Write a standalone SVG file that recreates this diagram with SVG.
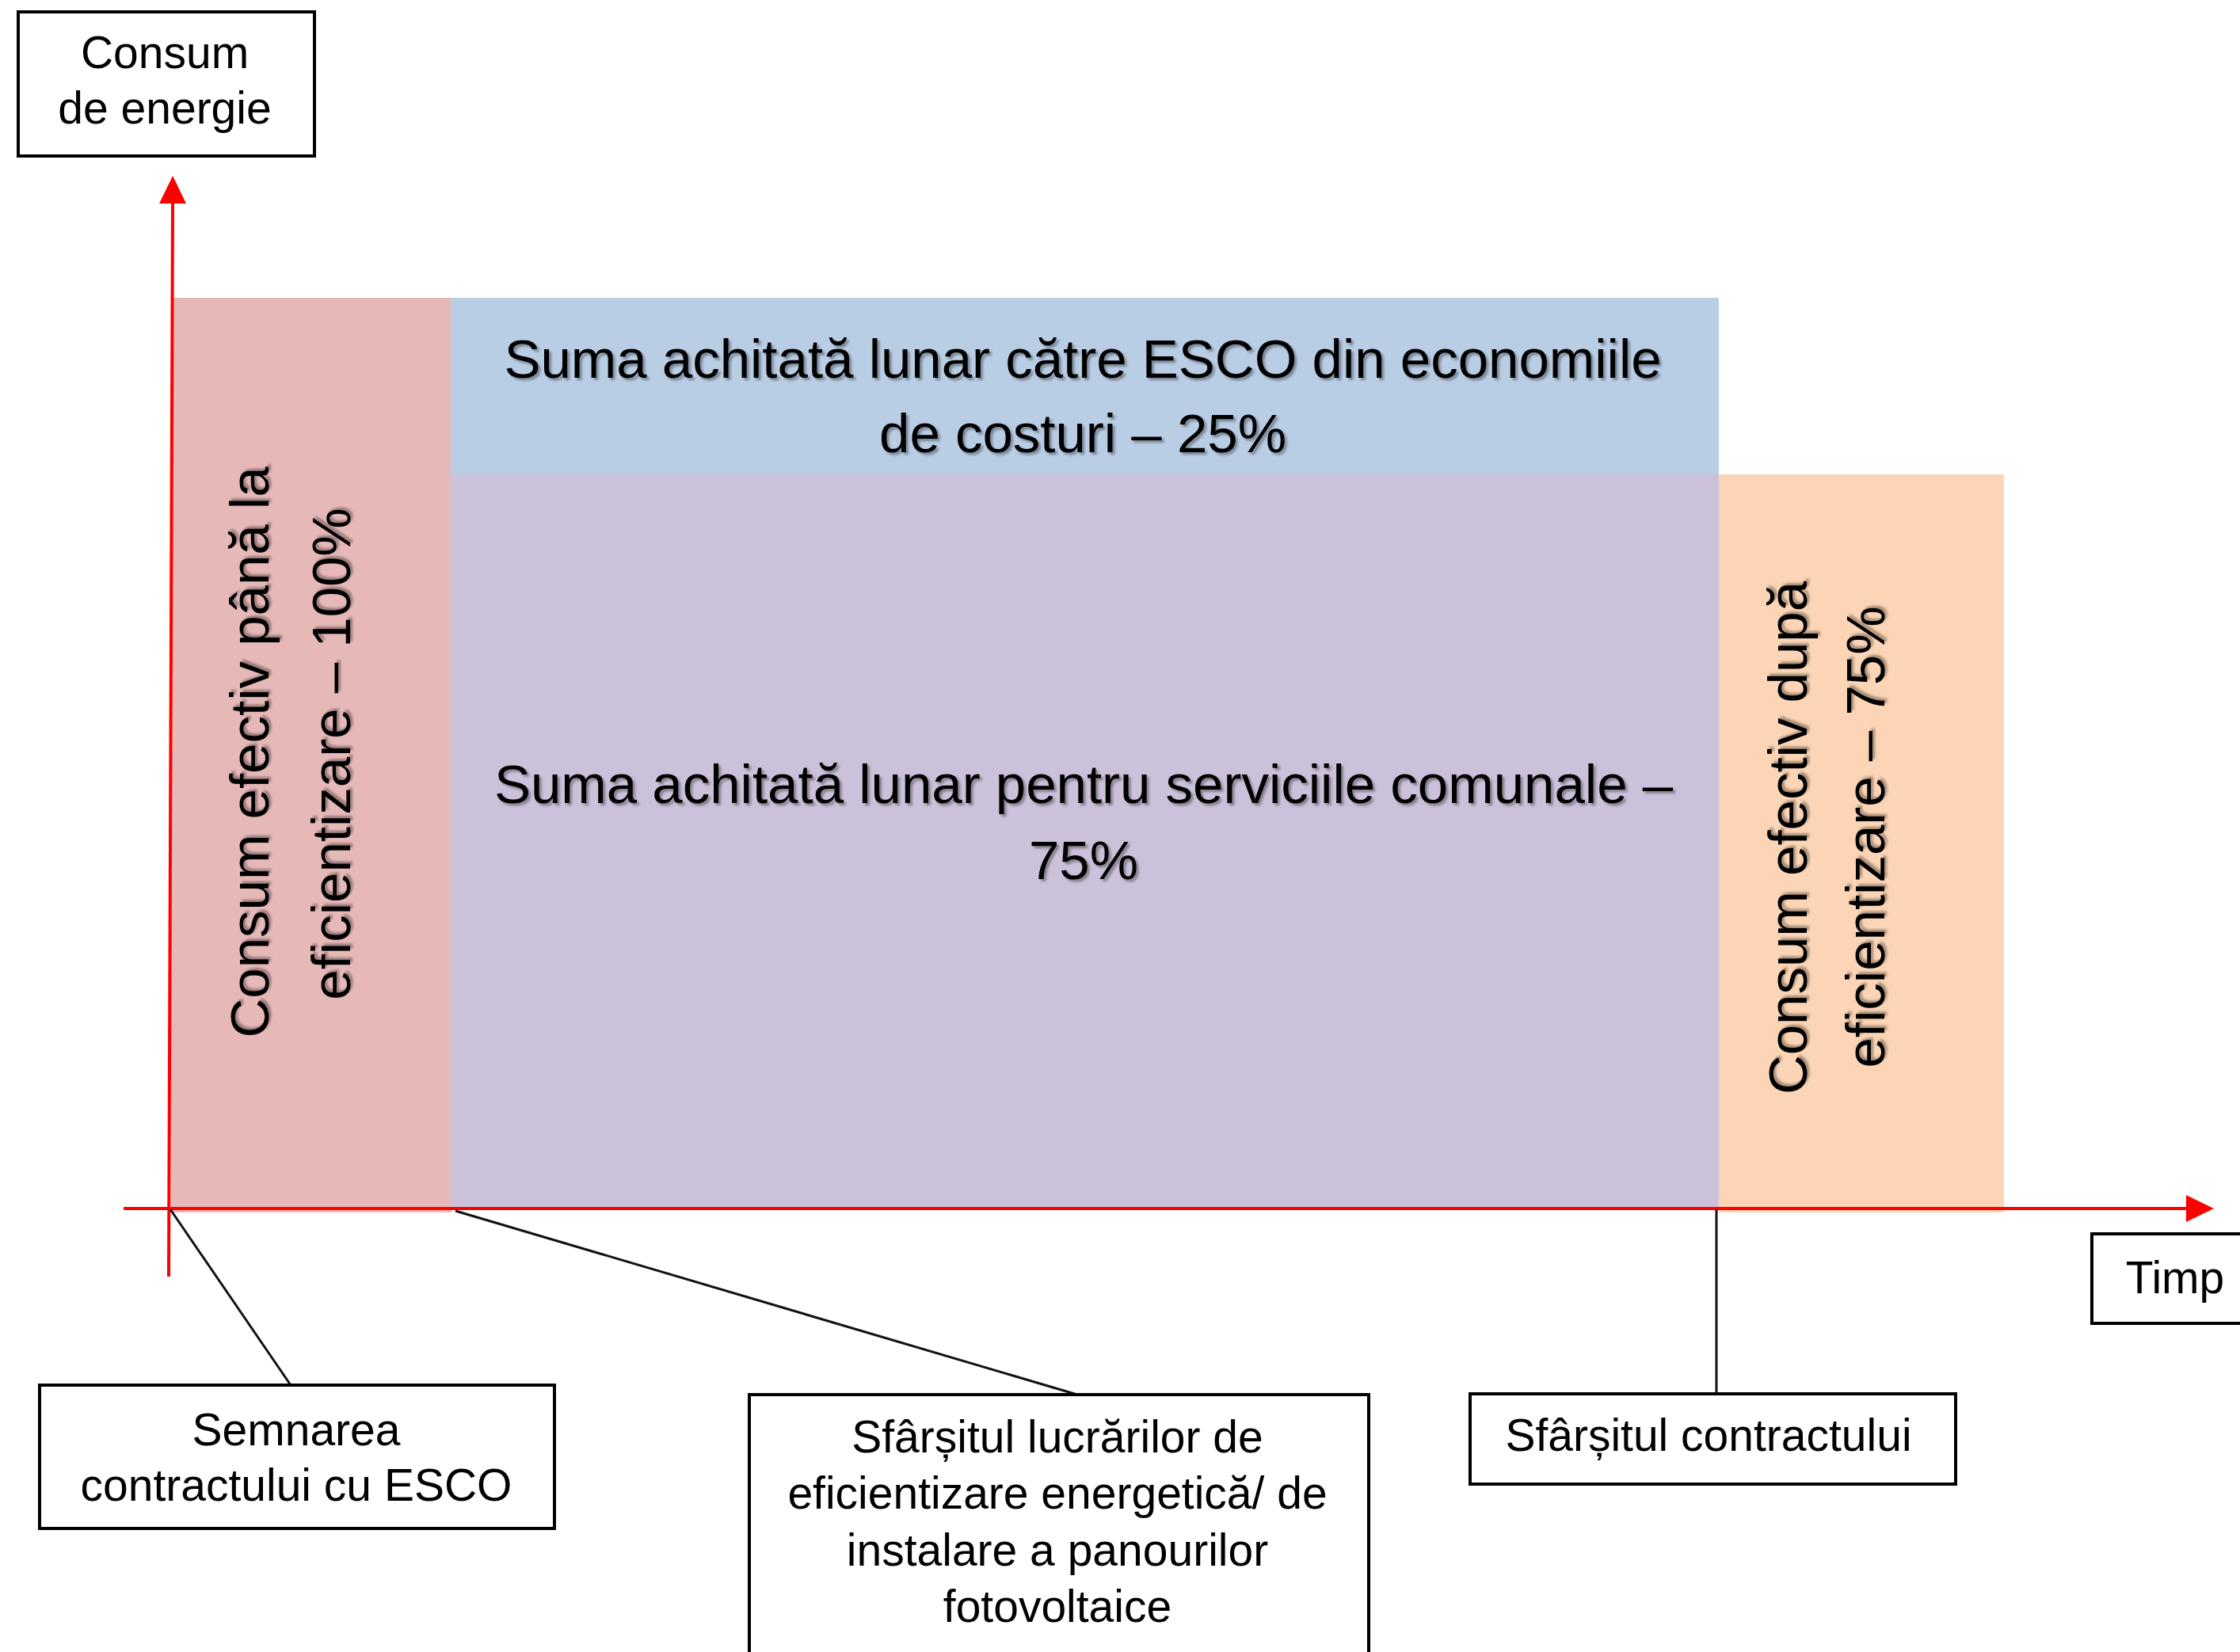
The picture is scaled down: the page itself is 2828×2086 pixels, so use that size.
<svg xmlns="http://www.w3.org/2000/svg" width="2828" height="2086" viewBox="0 0 2828 2086">
<style>
.box{fill:#fff;stroke:#000;stroke-width:4}
.bt{font-family:"Liberation Sans",Arial,sans-serif;font-size:57px;fill:#000;text-anchor:middle}
.big{font-family:"Liberation Sans",Arial,sans-serif;font-size:69px;fill:#000;text-anchor:middle;filter:url(#sh)}
.axis{stroke:#ff0000;stroke-width:4;fill:none}
.conn{stroke:#111;stroke-width:3;fill:none}
</style>
<defs>
<filter id="sh" x="-5%" y="-20%" width="110%" height="140%">
<feDropShadow dx="3" dy="3" stdDeviation="1.5" flood-color="#000" flood-opacity="0.35"/>
</filter>
<marker id="arr" markerUnits="userSpaceOnUse" markerWidth="36" markerHeight="36" refX="0" refY="17" orient="auto">
<path d="M0,0 L35,17 L0,34 z" fill="#ff0000"/>
</marker>
</defs>
<rect width="2828" height="2086" fill="#fff"/>
<g id="areas">
<g id="pink">
<rect x="216" y="376" width="354" height="1155" fill="#E6B9B8"/>
<text class="big" transform="translate(339,950) rotate(-90)">Consum efectiv până la</text>
<text class="big" transform="translate(442,952) rotate(-90)">eficientizare – 100%</text>
</g>
<g id="blue">
<rect x="569" y="376" width="1601" height="224" fill="#B9CDE5"/>
<text class="big" x="1367" y="477">Suma achitată lunar către ESCO din economiile</text>
<text class="big" x="1367" y="571">de costuri – 25%</text>
</g>
<g id="purple">
<rect x="569" y="599" width="1601" height="927" fill="#CCC1DA"/>
<text class="big" x="1368" y="1014">Suma achitată lunar pentru serviciile comunale –</text>
<text class="big" x="1368" y="1110">75%</text>
</g>
<g id="orange">
<rect x="2170" y="599" width="360" height="932" fill="#FBD5B5"/>
<text class="big" transform="translate(2281,1058) rotate(-90)">Consum efectiv după</text>
<text class="big" transform="translate(2379,1057) rotate(-90)">eficientizare – 75%</text>
</g>
</g>
<g id="axes">
<line class="axis" x1="156" y1="1526" x2="2760" y2="1526" marker-end="url(#arr)"/>
<line class="axis" x1="213" y1="1612" x2="218" y2="257" marker-end="url(#arr)"/>
</g>
<g id="connectors">
<line class="conn" x1="215" y1="1527" x2="367" y2="1749"/>
<line class="conn" x1="575" y1="1529" x2="1360" y2="1761"/>
<line class="conn" x1="2167" y1="1527" x2="2167" y2="1760"/>
</g>
<g id="consum-box">
<rect class="box" x="23" y="15" width="374" height="182"/>
<text class="bt" x="208" y="86">Consum</text>
<text class="bt" x="208" y="156">de energie</text>
</g>
<g id="timp-box">
<rect class="box" x="2641" y="1558" width="215" height="113"/>
<text class="bt" x="2746" y="1633">Timp</text>
</g>
<g id="semnarea-box">
<rect class="box" x="50" y="1749" width="650" height="181"/>
<text class="bt" x="374" y="1825">Semnarea</text>
<text class="bt" x="374" y="1895">contractului cu ESCO</text>
</g>
<g id="lucrari-box">
<rect class="box" x="946" y="1761" width="782" height="360"/>
<text class="bt" x="1335" y="1834">Sfârșitul lucrărilor de</text>
<text class="bt" x="1335" y="1905">eficientizare energetică/ de</text>
<text class="bt" x="1335" y="1977">instalare a panourilor</text>
<text class="bt" x="1335" y="2048">fotovoltaice</text>
</g>
<g id="contract-box">
<rect class="box" x="1856" y="1760" width="613" height="114"/>
<text class="bt" x="2157" y="1832">Sfârșitul contractului</text>
</g>
</svg>
